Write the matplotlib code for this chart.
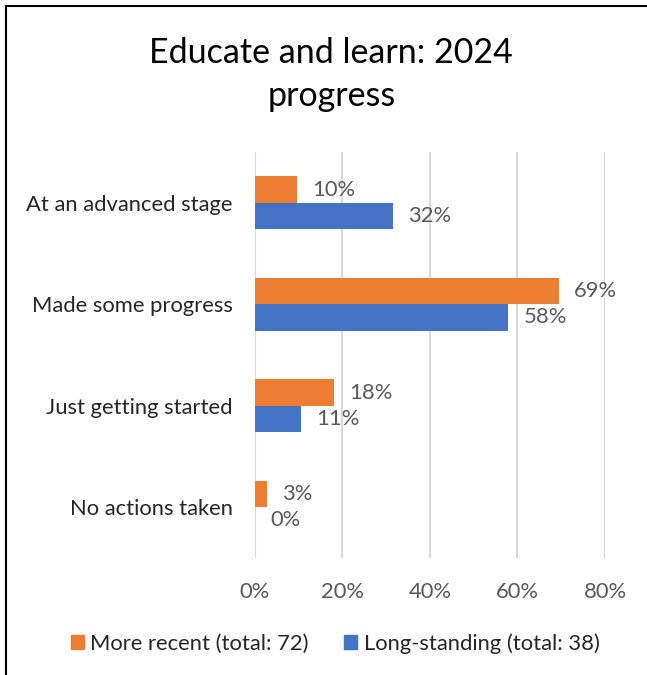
import numpy as np
import matplotlib.pyplot as plt
from matplotlib.patches import Patch

plt.rcParams['font.family'] = ['Lato', 'DejaVu Sans']

# Data
categories = ['At an advanced stage', 'Made some progress',
              'Just getting started', 'No actions taken']
recent = [9.7, 69.4, 18.1, 2.8]       # More recent (total: 72)
longstanding = [31.6, 57.9, 10.5, 0.0]  # Long-standing (total: 38)
series_names = ['More recent (total: 72)', 'Long-standing (total: 38)']
xticks = [0, 20, 40, 60, 80]

orange = '#ED7D31'
blue = '#4472C4'
grey = '#595959'
fs = 15.8

fig = plt.figure(figsize=(6.47, 6.75), dpi=100)
ax = fig.add_axes([0.394, 0.1733, 0.541, 0.6015])

y = np.arange(len(categories))
h = 0.26
ax.barh(y - h / 2, recent, height=h, color=orange, zorder=3)
ax.barh(y + h / 2, longstanding, height=h, color=blue, zorder=3)


def pct(v):
    return '%d%%' % int(v + 0.5)


# data labels
for yy, v in zip(y - h / 2, recent):
    ax.annotate(pct(v), (v, yy), xytext=(11, 0), textcoords='offset points',
                ha='left', va='center', fontsize=fs, color=grey)
for yy, v in zip(y + h / 2, longstanding):
    ax.annotate(pct(v), (v, yy), xytext=(11, 0), textcoords='offset points',
                ha='left', va='center', fontsize=fs, color=grey)

ax.set_xlim(0, 80)
ax.set_ylim(len(categories) - 0.5, -0.5)
ax.set_xticks(xticks)
ax.set_xticklabels([pct(t) for t in xticks], fontsize=fs, color=grey)
ax.set_yticks(y)
ax.set_yticklabels(categories, fontsize=fs, color='#262626')
ax.tick_params(axis='x', length=0, pad=17)
ax.tick_params(axis='y', length=0, pad=16)
ax.grid(axis='x', color='#D9D9D9', linewidth=1.5, zorder=0)
for s in ax.spines.values():
    s.set_visible(False)

fig.text(0.512, 0.889, 'Educate and learn: 2024\nprogress', ha='center', va='center',
         fontsize=24.5, color='black', linespacing=1.42)

handles = [Patch(color=orange), Patch(color=blue)]
fig.legend(handles, series_names, loc='center', bbox_to_anchor=(0.518, 0.047), ncol=2,
           frameon=False, fontsize=fs, handlelength=0.6, handleheight=0.6,
           handletextpad=0.3, columnspacing=1.6, labelcolor='#262626')

# chart border (only top and left edges are visible in the crop)
fig.add_artist(plt.Line2D([0.009, 0.009], [0, 0.991], color='black', linewidth=1.5))
fig.add_artist(plt.Line2D([0.009, 1], [0.991, 0.991], color='black', linewidth=1.5))

fig.savefig('out.png', dpi=100)
